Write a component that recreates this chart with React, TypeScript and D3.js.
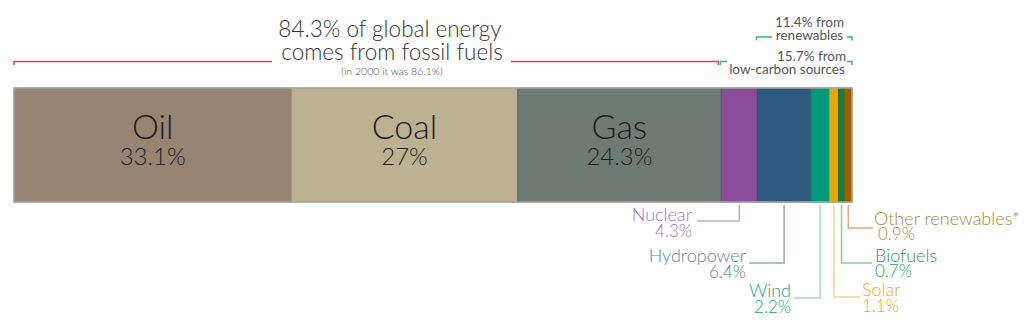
import React from "react";
import * as d3 from "d3";

const categories = ["Oil", "Coal", "Gas", "Nuclear", "Hydropower", "Wind", "Solar", "Biofuels", "Other renewables*"];
const shares = [33.1, 27, 24.3, 4.3, 6.4, 2.2, 1.1, 0.7, 0.9];
const shareLabels = ["33.1%", "27%", "24.3%", "4.3%", "6.4%", "2.2%", "1.1%", "0.7%", "0.9%"];
const fossilShare = 84.3;
const renewableStart = 88.6;
const titleLines = ["84.3% of global energy", "comes from fossil fuels"];
const subTitle = "(in 2000 it was 86.1%)";
const renewLines = ["11.4% from", "renewables"];
const lowCarbonLines = ["15.7% from", "low-carbon sources"];

const fills = ["#988473", "#bcb190", "#6e7b74", "#8a4b9b", "#2e5a80", "#009a7a", "#e8a700", "#137f40", "#9b6100"];
const labelColors = ["", "", "", "#a970bd", "#647ea0", "#20a07f", "#e8aa1c", "#2f9558", "#ad8647"];
const lineColors = ["", "", "", "#c9a3d6", "#97a8bd", "#a7dccd", "#f5d48c", "#8fcaa6", "#e4a58a"];

// layout for outside labels (index 3..8)
const outLayout: Record<number, { side: "l" | "r"; lineY: number; lineEnd: number; tx: number; nameY: number; pctY: number; pctDx: number }> = {
  3: { side: "l", lineY: 221, lineEnd: 697, tx: 692, nameY: 221, pctY: 237, pctDx: 0 },
  4: { side: "l", lineY: 263, lineEnd: 749, tx: 746, nameY: 262, pctY: 278, pctDx: 0 },
  5: { side: "l", lineY: 298, lineEnd: 794, tx: 791, nameY: 297, pctY: 313, pctDx: 0 },
  6: { side: "r", lineY: 297, lineEnd: 860, tx: 862, nameY: 296, pctY: 312, pctDx: 0 },
  7: { side: "r", lineY: 263, lineEnd: 872, tx: 875, nameY: 262, pctY: 277, pctDx: 0 },
  8: { side: "r", lineY: 228, lineEnd: 873, tx: 874, nameY: 225, pctY: 240, pctDx: 4 },
};

const W = 1024;
const H = 323;
const barTop = 88;
const barBottom = 202;
const FONT = "Lato, 'Open Sans', sans-serif";

export default function App() {
  const x = d3.scaleLinear().domain([0, 100]).range([14, 852]);
  const cum = Array.from(d3.cumsum(shares));
  const starts = cum.map((c, i) => c - shares[i]);

  const red = "#d8474a";
  const green = "#3db47c";
  const textGray = "#555";

  const xF = x(fossilShare);
  const xR = x(renewableStart);
  const xEnd = x(100);

  return (
    <div style={{ position: "fixed", left: 0, top: 0 }}>
      <svg width={W} height={H} style={{ display: "block", background: "#fff", fontFamily: FONT }}>
        {/* bar segments */}
        {categories.map((c, i) => (
          <rect
            key={c}
            x={x(starts[i])}
            y={barTop}
            width={x(cum[i]) - x(starts[i])}
            height={barBottom - barTop}
            fill={fills[i]}
            stroke={d3.color(fills[i])!.darker(0.4).formatHex()}
            strokeWidth={1}
          />
        ))}
        <rect x={x(0)} y={barTop} width={x(100) - x(0)} height={barBottom - barTop} fill="none" stroke="#a8a8a8" strokeWidth={1.5} />

        {/* inside labels */}
        {[0, 1, 2].map((i) => {
          const cx = (x(starts[i]) + x(cum[i])) / 2;
          return (
            <g key={i} fill="#1e1e1e" fontWeight={300} textAnchor="middle">
              <text x={cx} y={139} fontSize={34}>{categories[i]}</text>
              <text x={cx} y={165} fontSize={24}>{shareLabels[i]}</text>
            </g>
          );
        })}

        {/* outside labels */}
        {[3, 4, 5, 6, 7, 8].map((i) => {
          const L = outLayout[i];
          const cx = (x(starts[i]) + x(cum[i])) / 2;
          const anchor = L.side === "l" ? "end" : "start";
          return (
            <g key={i}>
              <path
                d={`M${cx},${barBottom + 3}V${L.lineY}H${L.lineEnd}`}
                fill="none"
                stroke={lineColors[i]}
                strokeWidth={1.5}
              />
              <text x={L.tx} y={L.nameY} fontSize={18} fontWeight={300} fill={labelColors[i]} textAnchor={anchor}>
                {categories[i]}
              </text>
              <text x={L.tx + L.pctDx} y={L.pctY} fontSize={17} fontWeight={300} fill={labelColors[i]} textAnchor={anchor}>
                {shareLabels[i]}
              </text>
            </g>
          );
        })}

        {/* fossil bracket */}
        <path d={`M${x(0)},65V61.5H272`} fill="none" stroke={red} strokeWidth={1.5} />
        <path d={`M511,61.5H${xF - 2}V65`} fill="none" stroke={red} strokeWidth={1.5} />
        <g textAnchor="middle" fill="#333" fontWeight={300}>
          <text x={390} y={37} fontSize={22.5}>{titleLines[0]}</text>
          <text x={392} y={60} fontSize={22.5}>{titleLines[1]}</text>
          <text x={392} y={75} fontSize={10.5} fill="#444">{subTitle}</text>
        </g>

        {/* low-carbon bracket */}
        <path d={`M${xF},65V61.5H727`} fill="none" stroke={green} strokeWidth={1.5} />
        <path d={`M847,61.5H${xEnd}V65`} fill="none" stroke={green} strokeWidth={1.5} />
        {/* renewables bracket */}
        <path d={`M${xR},40.5V37H772`} fill="none" stroke={green} strokeWidth={1.5} />
        <path d={`M847,37H${xEnd}V40.5`} fill="none" stroke={green} strokeWidth={1.5} />

        <g textAnchor="middle" fill={textGray} fontSize={13.5} fontWeight={400}>
          <text x={809.5} y={27}>{renewLines[0]}</text>
          <text x={809.5} y={40}>{renewLines[1]}</text>
          <text x={811.5} y={61}>{lowCarbonLines[0]}</text>
          <text x={787} y={74}>{lowCarbonLines[1]}</text>
        </g>
      </svg>
    </div>
  );
}
